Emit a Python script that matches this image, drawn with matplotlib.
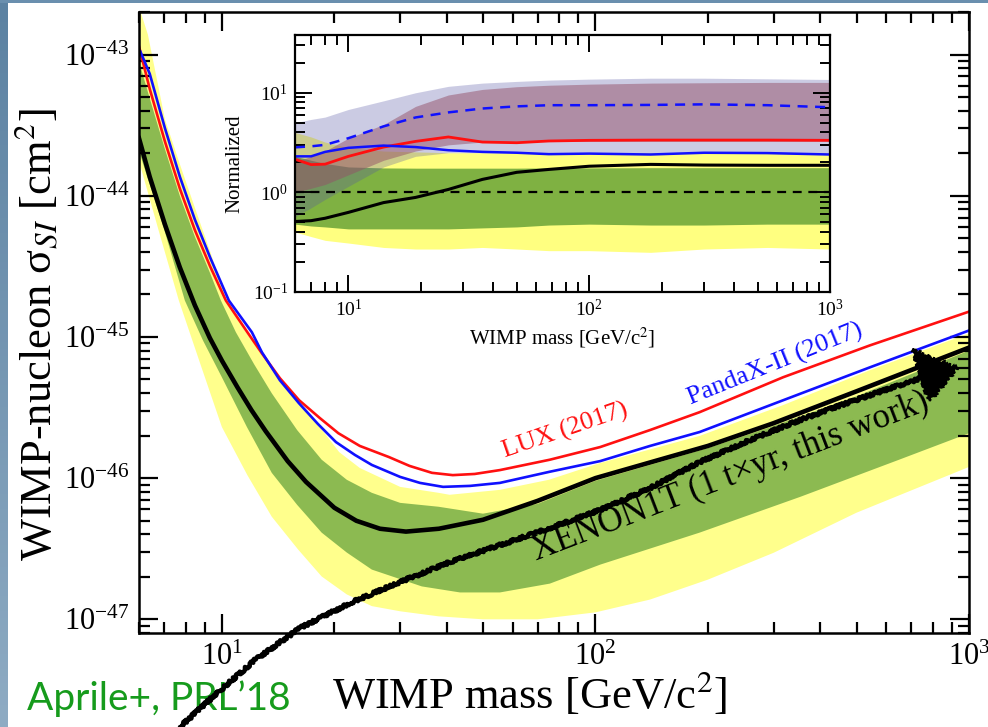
import matplotlib
matplotlib.use('Agg')
import matplotlib.pyplot as plt
import numpy as np
from matplotlib.colors import LinearSegmentedColormap
from matplotlib.patches import Polygon

plt.rcParams['font.family'] = 'serif'
plt.rcParams['font.serif'] = ['Liberation Serif', 'DejaVu Serif']
plt.rcParams['mathtext.fontset'] = 'stix'

# ---- main panel: XENON1T limit with sensitivity bands, LUX and PandaX-II ----
x1t_mass = [6, 6.41, 7.04, 7.72, 8.47, 9.29, 10, 11, 12, 13.1, 15, 16.8, 20, 22.9, 26.5, 31.1,
            38.1, 50, 70, 100, 150, 200, 300, 500, 1000]
x1t_limit = [2.55e-44, 1.36e-44, 6.25e-45, 3.1e-45, 1.67e-45, 9.8e-46, 6.8e-46, 4.41e-46, 3.03e-46,
             2.15e-46, 1.32e-46, 9.4e-47, 6.17e-47, 4.99e-47, 4.38e-47, 4.18e-47, 4.38e-47, 5.07e-47,
             6.9e-47, 1.0e-46, 1.36e-46, 1.69e-46, 2.45e-46, 4.12e-46, 8.4e-46]

# 1 sigma band
s1_lo_mass = [6, 7.0, 7.96, 8.9, 10, 11.67, 13.6, 15.9, 18.5, 21.6, 25.2, 34.3, 43.4, 55.5, 75.5,
              103, 190, 354, 650, 1000]
s1_lo = [2.07e-44, 5.82e-45, 1.81e-45, 9.44e-46, 5.18e-46, 2.3e-46, 1.09e-46, 6.47e-47, 4.11e-47,
         2.97e-47, 2.25e-47, 1.71e-47, 1.55e-47, 1.55e-47, 1.79e-47, 2.44e-47, 4.11e-47, 7.38e-47,
         1.35e-46, 2.08e-46]
s1_hi_mass = [6, 6.41, 7.04, 7.72, 8.47, 9.29, 9.94, 10.9, 12.2, 13.6, 15.9, 18.5, 21.6, 25.2, 30,
              38, 50, 70, 100, 200, 300, 500, 1000]
s1_hi = [8.9e-44, 4.9e-44, 2.14e-44, 9.95e-45, 5.12e-45, 2.85e-45, 1.81e-45, 1.08e-45, 6.4e-46,
         3.99e-46, 2.19e-46, 1.35e-46, 9.73e-47, 7.87e-47, 6.68e-47, 6.27e-47, 5.6e-47, 6.57e-47,
         9.57e-47, 1.63e-46, 2.34e-46, 3.8e-46, 8.0e-46]

# 2 sigma band
s2_lo_mass = [6, 6.8, 7.67, 8.8, 10, 11.7, 13.6, 16, 18.5, 21.6, 25.2, 30, 38, 50, 70, 100, 140,
              200, 300, 500, 1000]
s2_lo = [1.76e-44, 5.46e-45, 1.81e-45, 6.19e-46, 2.3e-46, 1.05e-46, 5.33e-47, 3.12e-47, 2.01e-47,
         1.5e-47, 1.24e-47, 1.14e-47, 1.05e-47, 1.0e-47, 1.0e-47, 1.12e-47, 1.38e-47, 1.91e-47,
         2.96e-47, 5.69e-47, 1.2e-46]
s2_hi_mass = [6, 6.34, 7.04, 7.72, 8.47, 9.29, 10.3, 11.6, 12.8, 14.3, 16.1, 18.3, 20.6, 23.4,
              30, 38, 40.7, 55.5, 75, 103, 190, 318, 543, 1000]
s2_hi = [2.18e-43, 1.38e-43, 3.48e-44, 1.67e-44, 8.2e-45, 4.07e-45, 1.81e-45, 1.08e-45, 7.65e-46,
         5.0e-46, 3.45e-46, 2.3e-46, 1.53e-46, 1.18e-46, 8.67e-47, 7.87e-47, 7.62e-47, 8.26e-47,
         9.73e-47, 1.28e-46, 1.99e-46, 3.29e-46, 5.81e-46, 1.06e-45]

lux_mass = [6, 6.41, 7.04, 7.72, 8.47, 9.29, 10.25, 11.7, 12.8, 14.3, 16.1, 18.3, 20.5, 23.4,
            28, 31.8, 36.5, 41.5, 47.5, 55.5, 75.5, 103, 140, 190, 318, 543, 1000]
lux_xs = [1.14e-43, 5.71e-44, 2.42e-44, 1.12e-44, 5.7e-45, 3.18e-45, 1.81e-45, 1.08e-45,
          7.65e-46, 5.1e-46, 3.56e-46, 2.66e-46, 2.08e-46, 1.69e-46, 1.41e-46, 1.22e-46, 1.09e-46,
          1.05e-46, 1.07e-46, 1.14e-46, 1.35e-46, 1.66e-46, 2.19e-46, 2.93e-46, 5.18e-46,
          8.71e-46, 1.51e-45]

pandax_mass = [6.05, 6.41, 7.04, 7.72, 8.47, 9.29, 10.44, 12.03, 12.8, 14.3, 16.07, 18.07, 20.2,
               22.7, 25.2, 30, 33.9, 39.1, 46.2, 55.5, 75.5, 103, 140, 190, 318, 543, 1000]
pandax_xs = [1.05e-43, 7.3e-44, 3.01e-44, 1.36e-44, 6.76e-45, 3.68e-45, 1.81e-45, 1.08e-45,
             7.78e-46, 4.93e-46, 3.4e-46, 2.42e-46, 1.8e-46, 1.46e-46, 1.24e-46, 1.02e-46, 9.25e-47,
             8.67e-47, 8.81e-47, 9.25e-47, 1.11e-46, 1.32e-46, 1.69e-46, 2.12e-46, 3.56e-46,
             6.09e-46, 1.11e-45]

# ---- inset: everything normalised to the XENON1T median sensitivity ----
in_mass = [6, 7, 8, 10, 14, 19, 26, 36, 50, 68, 100, 180, 300, 550, 1000]
r_x1t = [0.51, 0.52, 0.55, 0.63, 0.79, 0.89, 1.07, 1.35, 1.59, 1.70, 1.83, 1.91, 1.88, 1.87, 1.87]
r_sig1_lo = [0.48, 0.46, 0.45, 0.43, 0.43, 0.43, 0.43, 0.44, 0.45, 0.47, 0.48, 0.47, 0.47, 0.48, 0.48]
r_sig1_hi = [2.3, 2.1, 1.95, 1.8, 1.76, 1.75, 1.75, 1.75, 1.75, 1.76, 1.76, 1.77, 1.77, 1.77, 1.77]
r_sig2_lo = [0.40, 0.36, 0.33, 0.31, 0.28, 0.27, 0.27, 0.28, 0.27, 0.26, 0.26, 0.25, 0.27, 0.28, 0.27]
r_sig2_hi = [4.0, 3.6, 3.2, 2.8, 2.6, 2.55, 2.5, 2.5, 2.5, 2.5, 2.5, 2.5, 2.5, 2.5, 2.5]
r_pandax_lo = [0.57, 0.7, 0.85, 1.15, 1.8, 2.3, 2.5, 2.5, 2.5, 2.5, 2.5, 2.45, 2.45, 2.45, 2.4]
r_pandax_hi = [5.0, 5.4, 5.7, 6.8, 8.3, 10.0, 11.6, 12.5, 13.0, 13.4, 13.7, 14.0, 14.0, 13.8, 13.6]
r_lux_lo = [1.0, 1.1, 1.2, 1.5, 2.1, 2.6, 3.0, 3.2, 3.25, 3.25, 3.25, 3.25, 3.25, 3.25, 3.25]
r_lux_hi = [2.0, 2.3, 2.6, 3.5, 4.8, 7.3, 9.5, 10.8, 11.5, 11.9, 12.2, 12.5, 12.6, 12.7, 12.7]
r_lux = [2.15, 1.9, 1.92, 2.3, 2.85, 3.25, 3.6, 3.2, 3.15, 3.28, 3.33, 3.35, 3.35, 3.35, 3.33]
r_pandax = [2.3, 2.3, 2.55, 2.8, 2.95, 2.85, 2.65, 2.55, 2.5, 2.42, 2.45, 2.4, 2.5, 2.48, 2.4]
r_pandax_med = [2.83, 2.9, 3.0, 3.5, 4.6, 5.65, 6.35, 6.95, 7.3, 7.5, 7.5, 7.55, 7.65, 7.5, 7.15]

# hand-drawn arrow over the slide (figure pixels)
arrow_px = [(180, 727), (215, 695), (255, 660), (300, 628), (350, 603), (400, 582), (450, 562),
            (500, 545), (550, 528), (600, 510), (650, 488), (700, 462), (750, 440), (800, 420),
            (850, 402), (900, 385), (925, 377)]
arrow_head_px = [(957, 368), (913, 350), (929, 401)]

W, H = 988, 727
YELLOW = '#ffff8c'
GREEN = '#8cba51'


def band(ax, m_lo, lo, m_hi, hi, **kw):
    xs = list(m_lo) + list(m_hi)[::-1]
    ys = list(lo) + list(hi)[::-1]
    ax.fill(xs, ys, lw=0, **kw)


fig = plt.figure(figsize=(W / 100, H / 100), dpi=100)
fig.patch.set_facecolor('white')

# slide frame on the left and top
strip = fig.add_axes([0, 0, 7 / W, 1])
strip.imshow(np.linspace(0, 1, 100)[:, None], aspect='auto',
             cmap=LinearSegmentedColormap.from_list('s', ['#5c82a2', '#8eabc3']))
strip.axis('off')
fig.add_artist(plt.Rectangle((0, 1 - 3 / H), 1, 3 / H, transform=fig.transFigure,
                             color='#6a8fae', lw=0))

ax = fig.add_axes([139 / W, 1 - 633 / H, 830 / W, 621 / H])
band(ax, s2_lo_mass, s2_lo, s2_hi_mass, s2_hi, color=YELLOW)
band(ax, s1_lo_mass, s1_lo, s1_hi_mass, s1_hi, color=GREEN)
ax.plot(lux_mass, lux_xs, color='#ff1010', lw=1.9)
ax.plot(pandax_mass, pandax_xs, color='#1010ff', lw=1.9)
ax.plot(x1t_mass, x1t_limit, color='black', lw=3.3)
ax.set_xscale('log')
ax.set_yscale('log')
ax.set_xlim(6, 1000)
ax.set_ylim(8e-48, 2e-43)
for s in ax.spines.values():
    s.set_linewidth(1.8)
ax.tick_params(which='both', direction='in', top=True, right=True, width=1.6, labelsize=22, pad=7)
ax.tick_params(which='major', length=14)
ax.tick_params(which='minor', length=8)
ax.set_xlabel('WIMP mass [GeV/c$^2$]', fontsize=32)
ax.set_ylabel('WIMP-nucleon σ$_{SI}$ [cm$^2$]', fontsize=32)
ax.xaxis.set_label_coords(0.47, -0.06)
ax.yaxis.set_label_coords(-0.095, 0.48)

ax.text(0.514, 0.325, 'LUX (2017)', color='#ff1010', fontsize=19, rotation=19,
        ha='center', va='center', transform=ax.transAxes)
ax.text(0.767, 0.432, 'PandaX-II (2017)', color='#1010ff', fontsize=19, rotation=22,
        ha='center', va='center', transform=ax.transAxes)
ax.text(0.713, 0.251, 'XENON1T (1 t×yr, this work)', color='black', fontsize=25, rotation=21,
        ha='center', va='center', transform=ax.transAxes)

# inset
ins = fig.add_axes([295 / W, 1 - 292 / H, 535 / W, 257 / H])
ins.fill_between(in_mass, r_sig2_lo, r_sig2_hi, color='#ffff80', lw=0)
ins.fill_between(in_mass, r_sig1_lo, r_sig1_hi, color='#7fb142', lw=0)
ins.fill_between(in_mass, r_pandax_lo, r_pandax_hi, color='#5555a5', alpha=0.3, lw=0)
ins.fill_between(in_mass, r_lux_lo, r_lux_hi, color='#945068', alpha=0.5, lw=0)
ins.axhline(1.0, color='black', lw=1.6, ls=(0, (4, 3)))
ins.plot(in_mass, r_pandax_med, color='#1010ff', lw=1.8, ls=(0, (4, 3)))
ins.plot(in_mass, r_lux, color='#ff1010', lw=2.0)
ins.plot(in_mass, r_pandax, color='#1010ff', lw=1.8)
ins.plot(in_mass, r_x1t, color='black', lw=2.2)
ins.set_xscale('log')
ins.set_yscale('log')
ins.set_xlim(6, 1000)
ins.set_ylim(0.1, 38)
for s in ins.spines.values():
    s.set_linewidth(1.6)
ins.tick_params(which='both', direction='in', top=True, right=True, width=1.4, labelsize=14, pad=5)
ins.tick_params(which='major', length=12)
ins.tick_params(which='minor', length=7)
ins.set_xlabel('WIMP mass [GeV/c$^2$]', fontsize=15, labelpad=4)
ins.set_ylabel('Normalized', fontsize=15, labelpad=6)

fig.text(27 / W, 1 - 710 / H, 'Aprile+, PRL\u201918', fontfamily='Lato', fontsize=28,
         color='#169b1c', va='baseline', ha='left')

# rough marker-pen arrow on top of everything
stroke = plt.Line2D([x / W for x, _ in arrow_px], [1 - y / H for _, y in arrow_px],
                    transform=fig.transFigure, color='black', lw=3.2,
                    solid_capstyle='round', zorder=50)
stroke.set_sketch_params(scale=1.5, length=3, randomness=4)
fig.add_artist(stroke)
head = Polygon([(x / W, 1 - y / H) for x, y in arrow_head_px], closed=True,
               transform=fig.transFigure, facecolor='black', edgecolor='black', lw=1.5, zorder=50)
head.set_sketch_params(scale=2, length=3, randomness=4)
fig.add_artist(head)

fig.savefig('out.png', dpi=100)
